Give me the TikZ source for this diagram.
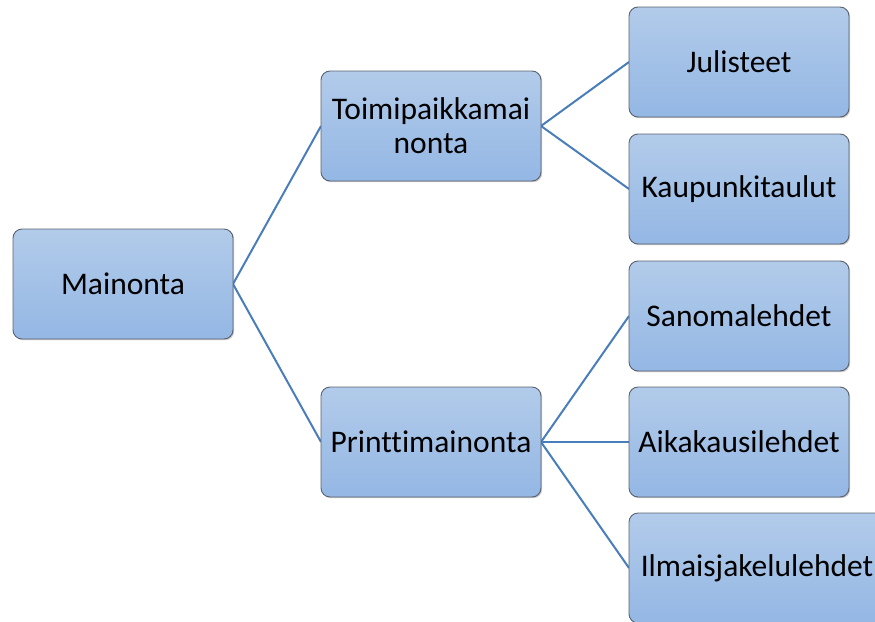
\documentclass[tikz,border=0pt]{standalone}
\usepackage{fontspec}
\setmainfont{Carlito}[Ligatures={NoCommon}]
\usetikzlibrary{shadows}
\definecolor{boxtop}{RGB}{178,203,234}
\definecolor{boxbot}{RGB}{148,183,228}
\definecolor{boxline}{RGB}{90,98,112}
\definecolor{linkblue}{RGB}{74,126,187}
\tikzset{
  item/.style={rectangle, rounded corners=9pt, draw=boxline, line width=0.9pt,
    top color=boxtop, bottom color=boxbot, minimum width=220pt, minimum height=110pt,
    inner sep=0pt, align=center, font=\fontsize{31.5}{34}\selectfont,
    drop shadow={shadow xshift=1.2pt, shadow yshift=-1.2pt, opacity=0.35, fill=black!60}},
  link/.style={draw=linkblue, line width=2pt}
}
\begin{document}
\begin{tikzpicture}[x=1pt,y=-1pt]
\useasboundingbox (0,0) rectangle (875,621);
\clip (0,0) rectangle (875,621);
% connectors first, boxes on top
\coordinate (mR) at (233,284);
\coordinate (tL) at (321,126);
\coordinate (tR) at (541,126);
\coordinate (pL) at (321,442);
\coordinate (pR) at (541,442);
\draw[link] (mR) -- (tL);
\draw[link] (mR) -- (pL);
\draw[link] (tR) -- (629,62) coordinate (jL);
\draw[link] (tR) -- (629,189) coordinate (kL);
\draw[link] (pR) -- (629,316) coordinate (sL);
\draw[link] (pR) -- (629,442) coordinate (aL);
\draw[link] (pR) -- (629,568) coordinate (iL);
% boxes
\node[item] (main) at (123,284) {Mainonta};
\node[item] (toimi) at (431,126) {Toimipaikkamai\\nonta};
\node[item] (print) at (431,442) {Printtimainonta};
\node[item] (jul) at (739,62) {Julisteet};
\node[item] (kau) at (739,189) {Kaupunkitaulut};
\node[item] (san) at (739,316) {Sanomalehdet};
\node[item] (aik) at (739,442) {Aikakausilehdet};
\node[item, minimum width=256pt] (ilm) at (757,568) {Ilmaisjakelulehdet};
\end{tikzpicture}
\end{document}
